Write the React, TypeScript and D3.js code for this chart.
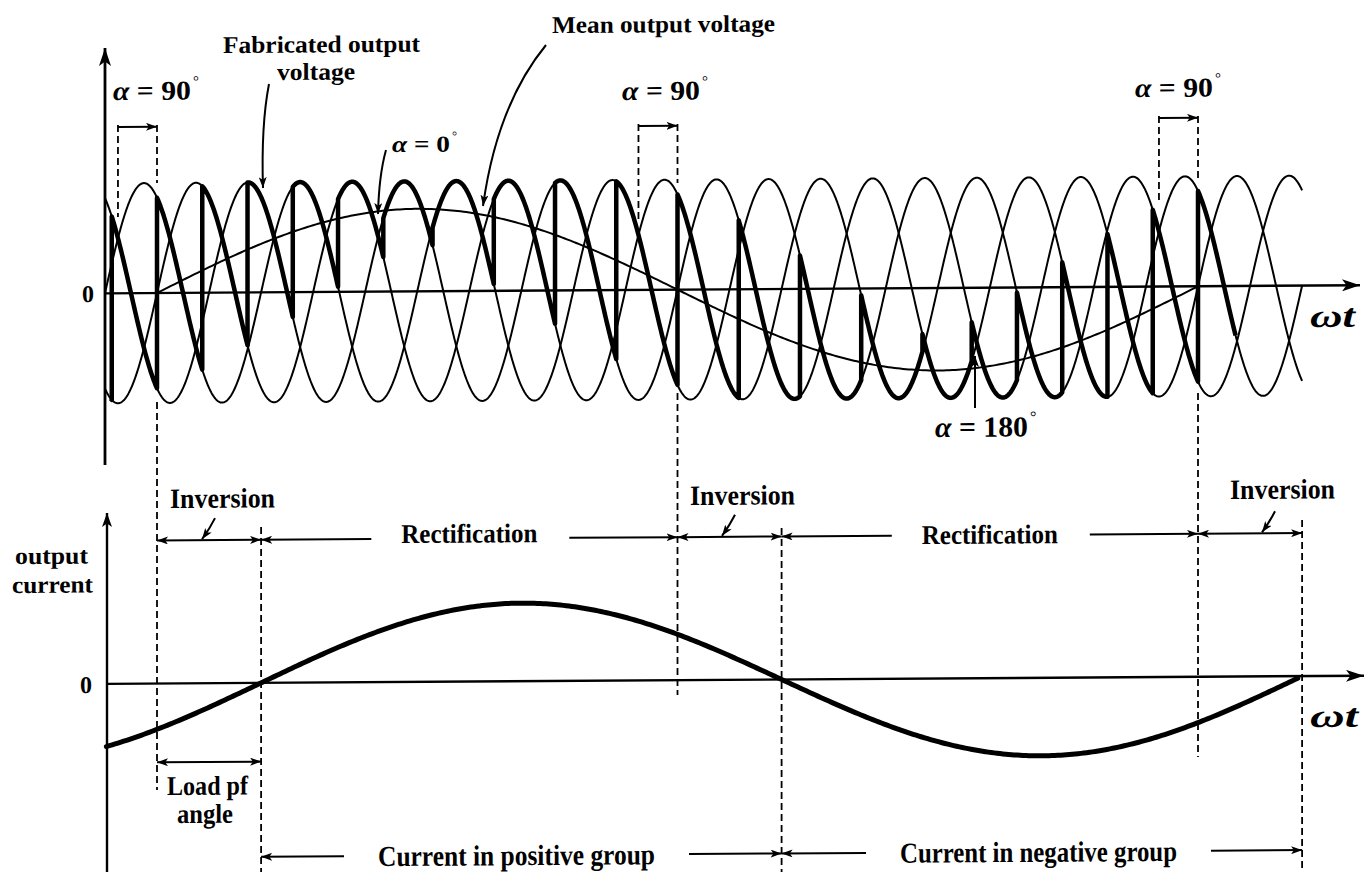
import React, { useEffect, useRef } from 'react';
import * as d3 from 'd3';

// Supply: three-phase, 20 pulses per output cycle (3-pulse converter groups)
const supplyPhases = [0, 120, 240];
const supplyCyclesPerOutput = 20 / 3;
const supplySpan = [-18, 396];
const fabricatedSpan = [-16, 373];

// Output side, per-unit of supply peak, angles in degrees of ωt
const meanVoltageAmplitude = 0.75;
const meanVoltageSpan = [0, 360];
const loadPfAngle = 36;
const currentSpan = [-17.5, 395];

// Annotation content
const alphaNinetyAt = [0, 180, 360];
const modeNames = ['Inversion', 'Rectification', 'Inversion', 'Rectification', 'Inversion'];
const modeBounds = [0, 36, 180, 216, 360, 396];
const groupNames = ['Current in positive group', 'Current in negative group'];
const groupBounds = [36, 216, 396];

// scan is slightly tilted: convert observed y into the un-skewed frame
const SKEW = 0.00646;
const fl = (x: number, y: number) => y + SKEW * (x - 700);
const FONT = '"Liberation Serif", "Times New Roman", serif';

const App = () => {
  const svgRef = useRef<SVGSVGElement>(null);

  useEffect(() => {
    document.body.style.margin = '0';
    const root = d3.select(svgRef.current);
    root.selectAll('*').remove();
    root.attr('width', 1371).attr('height', 872).style('display', 'block').style('background', '#fff');

    // Arrow markers
    const defs = root.append('defs');
    const marker = (id: string, w: number, h: number) => {
      defs
        .append('marker')
        .attr('id', id)
        .attr('viewBox', `0 0 ${w} ${h}`)
        .attr('refX', w)
        .attr('refY', h / 2)
        .attr('markerWidth', w)
        .attr('markerHeight', h)
        .attr('markerUnits', 'userSpaceOnUse')
        .attr('orient', 'auto-start-reverse')
        .append('path')
        .attr('d', `M0,0L${w},${h / 2}L0,${h}L${w * 0.25},${h / 2}Z`)
        .attr('fill', '#000');
    };
    marker('head', 14, 10);
    marker('axisHead', 18, 12);
    marker('small', 11, 8);

    const svg = root.append('g').attr('transform', 'translate(700,0) skewY(-0.37) translate(-700,0)');

    // Scales
    const R = supplyCyclesPerOutput;
    const deg = Math.PI / 180;
    const x = d3.scaleLinear().domain([0, 360]).range([157, 1198]);
    const yV = d3.scaleLinear().domain([-1, 1]).range([399.5, 179.5]);
    const yI = d3.scaleLinear().domain([-1, 1]).range([758, 602]);

    const lineV = d3
      .line<[number, number]>()
      .x(d => x(d[0]))
      .y(d => yV(d[1]));
    const lineI = d3
      .line<[number, number]>()
      .x(d => x(d[0]))
      .y(d => yI(d[1]));

    const seg = (x1: number, y1: number, x2: number, y2: number, w = 2) =>
      svg
        .append('line')
        .attr('x1', x1)
        .attr('y1', y1)
        .attr('x2', x2)
        .attr('y2', y2)
        .attr('stroke', '#000')
        .attr('stroke-width', w);

    const dash = (xx: number, y1: number, y2: number) =>
      seg(xx, fl(xx, y1), xx, fl(xx, y2), 1.8).attr('stroke-dasharray', '7,4');

    const label = (xx: number, yy: number, str: string, size: number, width?: number) => {
      const t = svg
        .append('text')
        .attr('x', xx)
        .attr('y', fl(xx, yy))
        .attr('font-family', FONT)
        .attr('font-size', size)
        .attr('font-weight', 'bold')
        .attr('fill', '#000')
        .text(str);
      if (width) t.attr('textLength', width).attr('lengthAdjust', 'spacingAndGlyphs');
      return t;
    };

    const alphaLabel = (xx: number, yy: number, value: string, size: number, width: number) => {
      const t = svg
        .append('text')
        .attr('x', xx)
        .attr('y', fl(xx, yy))
        .attr('font-family', FONT)
        .attr('font-size', size)
        .attr('font-weight', 'bold')
        .attr('textLength', width)
        .attr('lengthAdjust', 'spacingAndGlyphs');
      t.append('tspan').attr('font-style', 'italic').text('α');
      t.append('tspan').text(` = ${value}`);
      svg
        .append('text')
        .attr('x', xx + width + 2)
        .attr('y', fl(xx, yy) - size * 0.5)
        .attr('font-family', FONT)
        .attr('font-size', size * 0.55)
        .text('°');
    };

    const pointer = (d: string) =>
      svg
        .append('path')
        .attr('d', d)
        .attr('fill', 'none')
        .attr('stroke', '#000')
        .attr('stroke-width', 2)
        .attr('marker-end', 'url(#small)');

    // ---------- top panel: supply voltages ----------
    const wtSamples = d3.range(supplySpan[0], supplySpan[1] + 0.001, 0.2);
    supplyPhases.forEach(ph => {
      const pts = wtSamples.map(wt => [wt, Math.sin((wt * R - ph) * deg)] as [number, number]);
      svg.append('path').datum(pts).attr('d', lineV).attr('fill', 'none').attr('stroke', '#000').attr('stroke-width', 2);
    });

    // firing angle that makes the mean follow the reference
    const alphaAt = (wt: number) => {
      const th = ((((wt + 90) % 360) + 360) % 360) - 90;
      return th <= 90 ? 90 - th : th - 90;
    };
    const firing = (m: number) => {
      const c = 30 + 120 * m;
      let f = c + 90;
      for (let i = 0; i < 10; i++) f = c + alphaAt(f / R);
      return f;
    };

    // fabricated output voltage
    const fab: [number, number][] = [];
    const pS = fabricatedSpan[0] * R;
    const pE = fabricatedSpan[1] * R;
    for (let m = Math.floor(pS / 120) - 4; m < Math.ceil(pE / 120) + 4; m++) {
      const a = Math.max(firing(m), pS);
      const b = Math.min(firing(m + 1), pE);
      if (a >= b) continue;
      const ph = supplyPhases[((m % 3) + 3) % 3];
      const n = Math.max(2, Math.ceil((b - a) / 1.5));
      for (let i = 0; i <= n; i++) {
        const p = a + ((b - a) * i) / n;
        fab.push([p / R, Math.sin((p - ph) * deg)]);
      }
    }
    svg
      .append('path')
      .datum(fab)
      .attr('d', lineV)
      .attr('fill', 'none')
      .attr('stroke', '#000')
      .attr('stroke-width', 4.5)
      .attr('stroke-linejoin', 'round');

    // mean output voltage
    const meanPts = d3
      .range(meanVoltageSpan[0], meanVoltageSpan[1] + 0.001, 1)
      .map(wt => [wt, meanVoltageAmplitude * Math.sin(wt * deg)] as [number, number]);
    svg.append('path').datum(meanPts).attr('d', lineV).attr('fill', 'none').attr('stroke', '#000').attr('stroke-width', 2);

    // top axes
    seg(105, fl(105, 465), 105, fl(105, 48), 2.8).attr('marker-end', 'url(#axisHead)');
    seg(105, yV(0), 1360, yV(0), 2.4).attr('marker-end', 'url(#axisHead)');
    label(82, 302, '0', 24);
    label(1310, 327, 'ωt', 33, 45).attr('font-style', 'italic');

    // α = 90° brackets
    const bracketY = [127, 126, 118];
    const leftBottom = [217, 220, 200];
    const rightBottom = [183, 183, 180];
    const lowerTop = [402, 393, 393];
    const lowerBottom = [790, 695, 757];
    const labelX = [113, 622, 1135];
    const labelY = [100, 100, 97];
    alphaNinetyAt.forEach((mark, i) => {
      const xr = x(mark);
      const xl = x(mark - 90 / R);
      seg(xl, fl(xl, bracketY[i]), xr, fl(xl, bracketY[i]), 2).attr('marker-end', 'url(#small)');
      dash(xl, bracketY[i] - 2, leftBottom[i]);
      dash(xr, bracketY[i] - 2, rightBottom[i]);
      dash(xr, lowerTop[i], lowerBottom[i]);
      alphaLabel(labelX[i], labelY[i], '90', 27, 78);
    });

    alphaLabel(392, 152, '0', 23, 58);
    alphaLabel(935, 437, '180', 29, 93);

    label(223, 53, 'Fabricated output', 24, 197);
    label(277, 80, 'voltage', 24, 78);
    label(552, 33, 'Mean output voltage', 24, 223);

    pointer(`M269,${fl(269, 84)} Q261,${fl(261, 125)} 263,${fl(263, 188)}`);
    pointer(`M546,${fl(546, 45)} Q497,${fl(497, 105)} 483,${fl(483, 206)}`);
    pointer(`M386,${fl(386, 150)} Q379,${fl(379, 175)} 378,${fl(378, 214)}`);
    pointer(`M975,${fl(975, 408)} L975,${fl(975, 356)}`);

    // ---------- bottom panel: output current ----------
    const curPts = d3
      .range(currentSpan[0], currentSpan[1] + 0.001, 1)
      .map(wt => [wt, Math.sin((wt - loadPfAngle) * deg)] as [number, number]);
    svg
      .append('path')
      .datum(curPts)
      .attr('d', lineI)
      .attr('fill', 'none')
      .attr('stroke', '#000')
      .attr('stroke-width', 5)
      .attr('stroke-linecap', 'round');

    seg(107, fl(107, 880), 107, fl(107, 513), 2.4).attr('marker-end', 'url(#head)');
    seg(107, yI(0), 1364, yI(0), 2.4).attr('marker-end', 'url(#axisHead)');
    label(80, 693, '0', 24);
    label(1310, 727, 'ωt', 33, 48).attr('font-style', 'italic');
    label(15, 564, 'output', 24, 73);
    label(12, 593, 'current', 24, 81);

    // group boundaries
    const groupDashTop = [527, 528, 520];
    groupBounds.forEach((b, i) => dash(x(b), groupDashTop[i], 872));

    // modes row
    const rowY = 537;
    const invX = [170, 690, 1230];
    const invY = [508, 505, 499];
    const rectY = [543, 544];
    let inv = 0;
    let rect = 0;
    modeNames.forEach((name, i) => {
      const x0 = x(modeBounds[i]);
      const x1 = x(modeBounds[i + 1]);
      if (name === 'Inversion') {
        seg(x0, rowY, x1, rowY, 2).attr('marker-start', 'url(#small)').attr('marker-end', 'url(#small)');
        const lx = invX[inv];
        label(lx, invY[inv], name, 28, 105);
        pointer(`M${lx + 45},${rowY - 22} Q${lx + 40},${rowY - 12} ${lx + 32},${rowY - 1}`);
        inv++;
      } else {
        const w = 136;
        const cx = (x0 + x1) / 2;
        label(cx - w / 2, rectY[rect], name, 27, w);
        seg(x0, rowY, cx - w / 2 - 30, rowY, 2).attr('marker-start', 'url(#small)');
        seg(cx + w / 2 + 32, rowY, x1, rowY, 2).attr('marker-end', 'url(#small)');
        rect++;
      }
    });

    // load pf angle
    const pfY = fl(200, 762);
    seg(x(0), pfY, x(loadPfAngle), pfY, 2).attr('marker-start', 'url(#small)').attr('marker-end', 'url(#small)');
    label(167, 795, 'Load pf', 27, 81);
    label(177, 823, 'angle', 27, 56);

    // group row
    const gY = 854;
    const groupTextX = [378, 900];
    groupNames.forEach((name, i) => {
      const x0 = x(groupBounds[i]);
      const x1 = x(groupBounds[i + 1]);
      const w = 277;
      const tx = groupTextX[i];
      label(tx, 864 - SKEW * (tx - 700), name, 29, w);
      seg(x0, gY, tx - 34, gY, 2).attr('marker-start', 'url(#small)');
      seg(tx + w + 34, gY, x1, gY, 2).attr('marker-end', 'url(#small)');
    });
  }, []);

  return <svg ref={svgRef}></svg>;
};

export default App;
